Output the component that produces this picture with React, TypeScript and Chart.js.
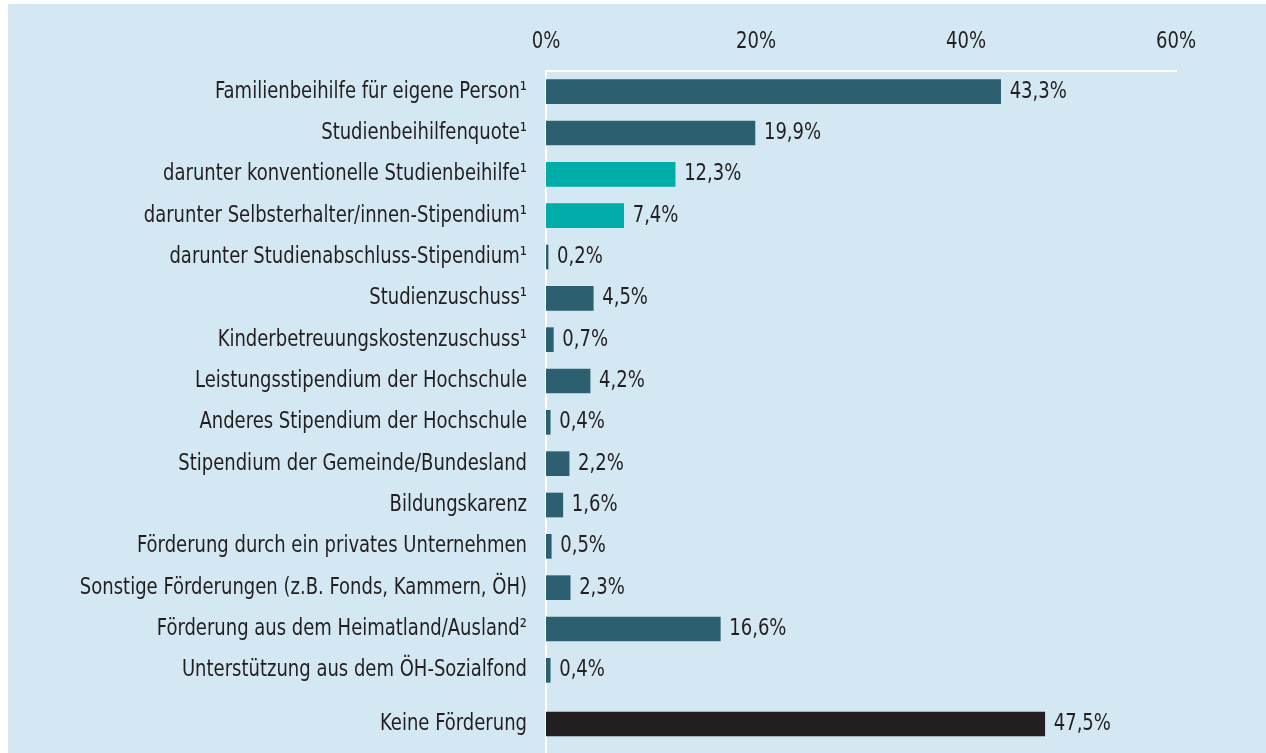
import React, { useEffect, useRef } from "react";
import { Chart, registerables } from "chart.js";

Chart.register(...registerables);

const categories = [
  "Familienbeihilfe für eigene Person¹",
  "Studienbeihilfenquote¹",
  "darunter konventionelle Studienbeihilfe¹",
  "darunter Selbsterhalter/innen-Stipendium¹",
  "darunter Studienabschluss-Stipendium¹",
  "Studienzuschuss¹",
  "Kinderbetreuungskostenzuschuss¹",
  "Leistungsstipendium der Hochschule",
  "Anderes Stipendium der Hochschule",
  "Stipendium der Gemeinde/Bundesland",
  "Bildungskarenz",
  "Förderung durch ein privates Unternehmen",
  "Sonstige Förderungen (z.B. Fonds, Kammern, ÖH)",
  "Förderung aus dem Heimatland/Ausland²",
  "Unterstützung aus dem ÖH-Sozialfond",
];
const values = [43.3, 19.9, 12.3, 7.4, 0.2, 4.5, 0.7, 4.2, 0.4, 2.2, 1.6, 0.5, 2.3, 16.6, 0.4];
const subItems = [false, false, true, true, false, false, false, false, false, false, false, false, false, false, false];

const noneCategory = ["Keine Förderung"];
const noneValues = [47.5];

const xTicks = [0, 20, 40, 60];

const BG = "#d3e8f3";
const TEXT = "#231f20";
const DARK = "#2c5f6f";
const TEAL = "#00aca8";
const BLACK = "#231f20";
const FONT_FAMILY = "'DejaVu Sans Condensed', 'DejaVu Sans', sans-serif";
const FONT_SIZE = 23;
const SQUEEZE = 0.87;

const fmt = (v: number) => v.toFixed(1).replace(".", ",") + "%";

function drawText(ctx: CanvasRenderingContext2D, text: string, x: number, y: number, align: CanvasTextAlign) {
  ctx.save();
  ctx.translate(x, y);
  ctx.scale(SQUEEZE, 1);
  ctx.textAlign = align;
  ctx.textBaseline = "middle";
  ctx.fillText(text, 0, 0);
  ctx.restore();
}

const textLabels = {
  id: "textLabels",
  afterDatasetsDraw(chart: any) {
    const ctx = chart.ctx as CanvasRenderingContext2D;
    ctx.save();
    ctx.font = `${FONT_SIZE}px ${FONT_FAMILY}`;
    ctx.fillStyle = TEXT;
    const yScale = chart.scales.y;
    (chart.data.labels as string[]).forEach((lab, i) => {
      drawText(ctx, lab, yScale.right - 19, yScale.getPixelForTick(i), "right");
    });
    const xScale = chart.scales.x;
    if (xScale.options.display) {
      xScale.ticks.forEach((t: any) => {
        drawText(ctx, t.value + "%", xScale.getPixelForValue(t.value), xScale.bottom - 28.5, "center");
      });
    }
    const ds = chart.data.datasets[0];
    chart.getDatasetMeta(0).data.forEach((bar: any, i: number) => {
      drawText(ctx, fmt(ds.data[i]), bar.x + 9, bar.y, "left");
    });
    ctx.restore();
  },
};

const Y_WIDTH = 538;
const PAD_RIGHT = 90;

function makeOptions(showX: boolean) {
  return {
    indexAxis: "y" as const,
    responsive: false,
    animation: false as const,
    layout: { padding: { left: 0, right: PAD_RIGHT, top: 0, bottom: 0 } },
    plugins: { legend: { display: false }, tooltip: { enabled: false } },
    scales: {
      x: {
        display: showX,
        position: "top" as const,
        min: 0,
        max: 60,
        afterBuildTicks(scale: any) {
          scale.ticks = xTicks.map((v) => ({ value: v }));
        },
        afterFit(scale: any) {
          scale.height = showX ? 67 : 0;
          scale.paddingLeft = 0;
          scale.paddingRight = 0;
        },
        grid: { display: false, drawTicks: false },
        border: { display: true, color: "#ffffff", width: 2 },
        ticks: { display: false },
      },
      y: {
        afterFit(scale: any) {
          scale.width = Y_WIDTH;
          scale.paddingTop = 0;
          scale.paddingBottom = 0;
        },
        grid: { display: false, drawTicks: false },
        border: { display: true, color: "#ffffff", width: 2 },
        ticks: { display: false },
      },
    },
  };
}

export default function App() {
  const refA = useRef<HTMLCanvasElement>(null);
  const refB = useRef<HTMLCanvasElement>(null);

  useEffect(() => {
    const a = new Chart(refA.current as HTMLCanvasElement, {
      type: "bar",
      data: {
        labels: categories,
        datasets: [
          {
            data: values,
            backgroundColor: subItems.map((s) => (s ? TEAL : DARK)),
            barThickness: 24,
          },
        ],
      },
      options: makeOptions(true) as any,
      plugins: [textLabels],
    });
    const b = new Chart(refB.current as HTMLCanvasElement, {
      type: "bar",
      data: {
        labels: noneCategory,
        datasets: [
          {
            data: noneValues,
            backgroundColor: BLACK,
            barThickness: 24,
          },
        ],
      },
      options: makeOptions(false) as any,
      plugins: [textLabels],
    });
    return () => {
      a.destroy();
      b.destroy();
    };
  }, []);

  return (
    <div
      style={{
        position: "absolute",
        left: 8,
        top: 4,
        width: 1258,
        height: 749,
        background: BG,
        overflow: "hidden",
      }}
    >
      <canvas ref={refA} width={1258} height={687} style={{ position: "absolute", left: 0, top: 0 }} />
      <canvas ref={refB} width={1258} height={66} style={{ position: "absolute", left: 0, top: 687 }} />
    </div>
  );
}
